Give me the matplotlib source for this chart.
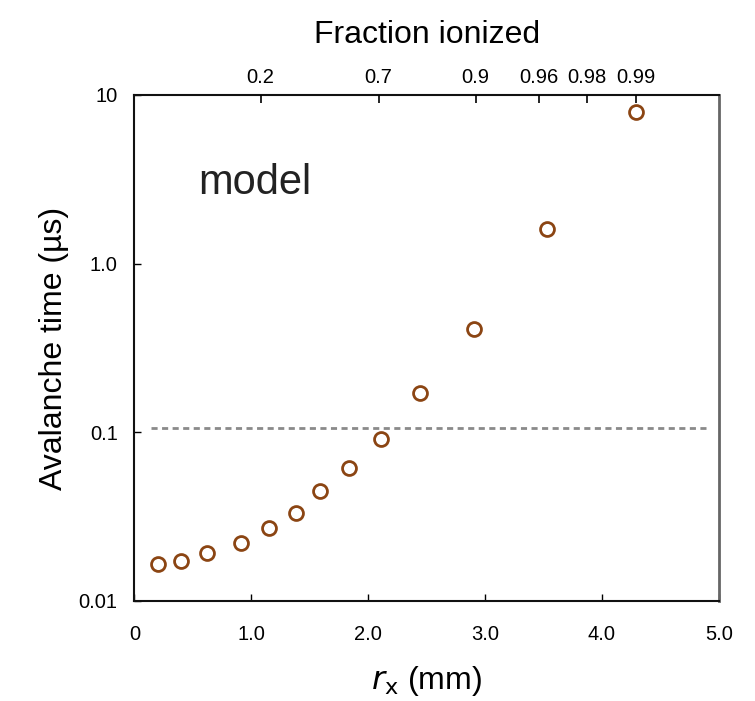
import matplotlib
matplotlib.use("Agg")
import matplotlib.pyplot as plt
from matplotlib.ticker import FixedLocator, FixedFormatter, NullLocator

plt.rcParams['font.family'] = ['Liberation Sans', 'DejaVu Sans']

# Avalanche time versus radius
r_x = [0.20, 0.40, 0.62, 0.91, 1.15, 1.38, 1.59, 1.84, 2.11, 2.44, 2.91, 3.53, 4.29]
t_avalanche = [0.0165, 0.0173, 0.0192, 0.0220, 0.0270, 0.0331, 0.0449, 0.0612,
               0.0908, 0.170, 0.408, 1.60, 7.95]

# reference level and its extent
ref_level = 0.106
ref_x = [0.14, 4.90]

# bottom / left ticks
x_ticks = [0, 1.0, 2.0, 3.0, 4.0, 5.0]
x_tick_labels = ["0", "1.0", "2.0", "3.0", "4.0", "5.0"]
y_ticks = [0.01, 0.1, 1.0, 10]
y_tick_labels = ["0.01", "0.1", "1.0", "10"]

# top axis: fraction ionized at given radius
frac_pos = [1.08, 2.09, 2.92, 3.46, 3.87, 4.29]
frac_labels = ["0.2", "0.7", "0.9", "0.96", "0.98", "0.99"]

fig = plt.figure(figsize=(7.55, 7.01), dpi=100)
ax = fig.add_axes([0.178, 0.1427, 0.774, 0.7218])

ax.plot(ref_x, [ref_level, ref_level], color='#8a8a8a', lw=2.0,
        dashes=(2.2, 1.6))
ax.plot(r_x, t_avalanche, 'o', mfc='white', mec='#8B4513', ms=10, mew=2.0,
        linestyle='none')

ax.set_yscale('log')
ax.set_xlim(0, 5.0)
ax.set_ylim(0.01, 10)

ax.xaxis.set_major_locator(FixedLocator(x_ticks))
ax.xaxis.set_major_formatter(FixedFormatter(x_tick_labels))
ax.yaxis.set_major_locator(FixedLocator(y_ticks))
ax.yaxis.set_major_formatter(FixedFormatter(y_tick_labels))
ax.yaxis.set_minor_locator(NullLocator())
ax.xaxis.set_minor_locator(NullLocator())

ax.tick_params(axis='x', direction='in', length=5, width=1, labelsize=14.5, pad=17)
ax.tick_params(axis='y', direction='in', length=5, width=1, labelsize=14.5, pad=12)

for side in ['left', 'bottom', 'top']:
    ax.spines[side].set_linewidth(1.5)
    ax.spines[side].set_color('#111111')
ax.spines['right'].set_linewidth(2.0)
ax.spines['right'].set_color('#666666')

ax.set_xlabel(r"$r_{\mathrm{x}}$ (mm)", fontsize=23, labelpad=15)
ax.set_ylabel("Avalanche time (µs)", fontsize=23, labelpad=7)

ax.text(0.109, 0.826, "model", transform=ax.transAxes, fontsize=30,
        va='center', ha='left', color='#222222')

top = ax.twiny()
top.set_xlim(ax.get_xlim())
top.xaxis.set_major_locator(FixedLocator(frac_pos))
top.xaxis.set_major_formatter(FixedFormatter(frac_labels))
top.xaxis.set_minor_locator(NullLocator())
top.tick_params(axis='x', direction='in', length=6, width=1.2, labelsize=14.5, pad=6)
for s in top.spines.values():
    s.set_visible(False)
top.set_xlabel("Fraction ionized", fontsize=23, labelpad=18)

fig.savefig("out.png", dpi=100)
